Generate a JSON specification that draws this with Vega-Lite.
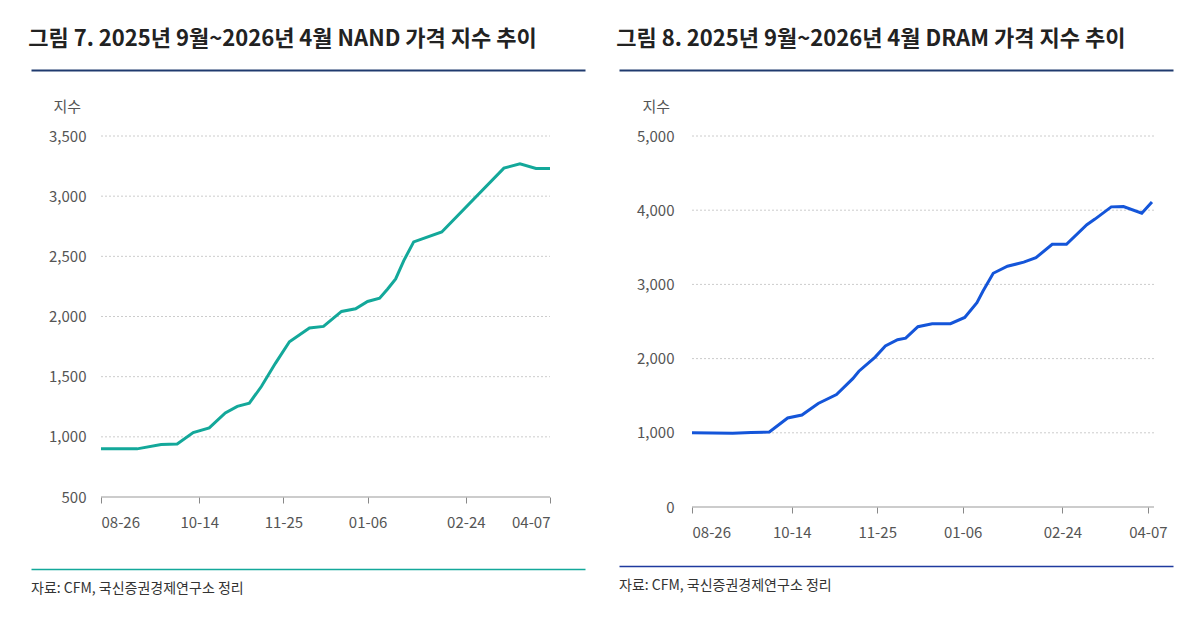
{
  "$schema": "https://vega.github.io/schema/vega-lite/v6.json",
  "background": "white",
  "padding": {"left": 28, "top": 27, "right": 10, "bottom": 10},
  "config": {
    "font": "Noto Sans CJK KR",
    "view": {"stroke": null},
    "title": {"font": "Noto Sans CJK KR", "fontSize": 22, "fontWeight": "bold", "color": "#222222", "anchor": "start", "offset": 16},
    "axis": {"labelFont": "Noto Sans CJK KR", "titleFont": "Noto Sans CJK KR", "labelFontSize": 15, "labelColor": "#555555", "titleColor": "#555555", "titleFontSize": 15, "titleFontWeight": "normal"}
  },
  "datasets": {
    "nand": [
      {"date": "2025-08-26", "value": 900}, {"date": "2025-09-13", "value": 900}, {"date": "2025-09-25", "value": 937},
      {"date": "2025-10-03", "value": 940}, {"date": "2025-10-11", "value": 1035}, {"date": "2025-10-19", "value": 1074},
      {"date": "2025-10-27", "value": 1198}, {"date": "2025-11-02", "value": 1253}, {"date": "2025-11-08", "value": 1280},
      {"date": "2025-11-14", "value": 1418}, {"date": "2025-11-21", "value": 1611}, {"date": "2025-11-28", "value": 1790},
      {"date": "2025-12-08", "value": 1905}, {"date": "2025-12-15", "value": 1918}, {"date": "2025-12-24", "value": 2042},
      {"date": "2025-12-31", "value": 2064}, {"date": "2026-01-06", "value": 2125}, {"date": "2026-01-12", "value": 2152},
      {"date": "2026-01-16", "value": 2229}, {"date": "2026-01-20", "value": 2312}, {"date": "2026-01-24", "value": 2463},
      {"date": "2026-01-29", "value": 2620}, {"date": "2026-02-12", "value": 2702}, {"date": "2026-03-15", "value": 3233},
      {"date": "2026-03-23", "value": 3269}, {"date": "2026-03-31", "value": 3230}, {"date": "2026-04-07", "value": 3230}
    ],
    "dram": [
      {"date": "2025-08-26", "value": 1000}, {"date": "2025-09-15", "value": 995}, {"date": "2025-09-24", "value": 1005},
      {"date": "2025-10-03", "value": 1010}, {"date": "2025-10-12", "value": 1200}, {"date": "2025-10-19", "value": 1240},
      {"date": "2025-10-27", "value": 1395}, {"date": "2025-11-05", "value": 1515}, {"date": "2025-11-13", "value": 1730},
      {"date": "2025-11-16", "value": 1830}, {"date": "2025-11-24", "value": 2020}, {"date": "2025-11-29", "value": 2170},
      {"date": "2025-12-05", "value": 2255}, {"date": "2025-12-09", "value": 2275}, {"date": "2025-12-15", "value": 2430},
      {"date": "2025-12-22", "value": 2470}, {"date": "2025-12-31", "value": 2470}, {"date": "2026-01-07", "value": 2555},
      {"date": "2026-01-13", "value": 2755}, {"date": "2026-01-16", "value": 2910}, {"date": "2026-01-21", "value": 3150},
      {"date": "2026-01-28", "value": 3245}, {"date": "2026-02-05", "value": 3300}, {"date": "2026-02-11", "value": 3360},
      {"date": "2026-02-19", "value": 3540}, {"date": "2026-02-26", "value": 3540}, {"date": "2026-03-08", "value": 3805},
      {"date": "2026-03-12", "value": 3880}, {"date": "2026-03-20", "value": 4045}, {"date": "2026-03-26", "value": 4050},
      {"date": "2026-04-04", "value": 3960}, {"date": "2026-04-09", "value": 4110}
    ],
    "nandgrid": [{"g": 1000}, {"g": 1500}, {"g": 2000}, {"g": 2500}, {"g": 3000}, {"g": 3500}],
    "dramgrid": [{"g": 1000}, {"g": 2000}, {"g": 3000}, {"g": 4000}, {"g": 5000}],
    "one": [{"x": 0}]
  },
  "hconcat": [
    {
      "spacing": 26,
      "vconcat": [
        {
          "title": "그림 7. 2025년 9월~2026년 4월 NAND 가격 지수 추이",
          "width": 554, "height": 1,
          "data": {"name": "one"},
          "mark": {"type": "point", "opacity": 0},
          "encoding": {"x": {"field": "x", "type": "quantitative", "scale": {"domain": [0, 1]},
            "axis": {"domainColor": "#1f3a6e", "domainWidth": 2, "ticks": false, "labels": false, "grid": false, "title": null}}}
        },
        {
          "width": 554, "height": 361,
          "encoding": {
            "x": {"type": "temporal", "scale": {"type": "utc", "range": [70, 519], "domain": [{"year": 2025, "month": 8, "date": 26, "utc": true}, {"year": 2026, "month": 4, "date": 7, "utc": true}]},
              "axis": {"title": null, "format": "%m-%d", "grid": false, "domain": false, "tickColor": "#888888", "tickSize": 6, "labelPadding": 12, "minExtent": 46,
                "values": [{"year": 2025, "month": 8, "date": 26, "utc": true}, {"year": 2025, "month": 10, "date": 14, "utc": true}, {"year": 2025, "month": 11, "date": 25, "utc": true}, {"year": 2026, "month": 1, "date": 6, "utc": true}, {"year": 2026, "month": 2, "date": 24, "utc": true}, {"year": 2026, "month": 4, "date": 7, "utc": true}]}},
            "y": {"type": "quantitative", "scale": {"domain": [500, 3500]},
              "axis": {"title": "지수", "offset": -70, "titleAngle": 0, "titleAnchor": "end", "titleAlign": "left", "titleX": -48, "titleY": -22, "values": [500, 1000, 1500, 2000, 2500, 3000, 3500], "format": ",.0f", "domain": false, "ticks": false, "grid": false, "labelPadding": 15}}
          },
          "layer": [
            {
              "data": {"name": "nandgrid"},
              "mark": {"type": "rule", "color": "#cccccc", "strokeDash": [2, 2], "strokeWidth": 1},
              "encoding": {"y": {"field": "g"}, "x": {"datum": {"year": 2025, "month": 8, "date": 26, "utc": true}}, "x2": {"datum": {"year": 2026, "month": 4, "date": 7, "utc": true}}}
            },
            {
              "data": {"values": [{"g": 500}]},
              "mark": {"type": "rule", "color": "#999999", "strokeWidth": 1},
              "encoding": {"y": {"field": "g"}, "x": {"datum": {"year": 2025, "month": 8, "date": 26, "utc": true}}, "x2": {"datum": {"year": 2026, "month": 4, "date": 7, "utc": true}}}
            },
            {
              "data": {"name": "nand"},
              "mark": {"type": "line", "color": "#13a89a", "strokeWidth": 3},
              "encoding": {"x": {"field": "date"}, "y": {"field": "value"}}
            }
          ]
        },
        {
          "width": 554, "height": 20,
          "data": {"name": "one"},
          "mark": {"type": "text", "text": "자료: CFM, 국신증권경제연구소 정리", "align": "left", "fontSize": 14, "color": "#333333", "dy": 10},
          "encoding": {"x": {"field": "x", "type": "quantitative", "scale": {"domain": [0, 1]},
            "axis": {"orient": "top", "domainColor": "#13a89a", "domainWidth": 1.5, "ticks": false, "labels": false, "grid": false, "title": null}}}
        }
      ]
    },
    {
      "spacing": 26,
      "vconcat": [
        {
          "title": "그림 8. 2025년 9월~2026년 4월 DRAM 가격 지수 추이",
          "width": 554, "height": 1,
          "data": {"name": "one"},
          "mark": {"type": "point", "opacity": 0},
          "encoding": {"x": {"field": "x", "type": "quantitative", "scale": {"domain": [0, 1]},
            "axis": {"domainColor": "#1f3a6e", "domainWidth": 2, "ticks": false, "labels": false, "grid": false, "title": null}}}
        },
        {
          "width": 554, "height": 371,
          "encoding": {
            "x": {"type": "temporal", "scale": {"type": "utc", "range": [73, 535], "domain": [{"year": 2025, "month": 8, "date": 26, "utc": true}, {"year": 2026, "month": 4, "date": 10, "utc": true}]},
              "axis": {"title": null, "format": "%m-%d", "grid": false, "domain": false, "tickColor": "#888888", "tickSize": 6, "labelPadding": 12,
                "values": [{"year": 2025, "month": 8, "date": 26, "utc": true}, {"year": 2025, "month": 10, "date": 14, "utc": true}, {"year": 2025, "month": 11, "date": 25, "utc": true}, {"year": 2026, "month": 1, "date": 6, "utc": true}, {"year": 2026, "month": 2, "date": 24, "utc": true}, {"year": 2026, "month": 4, "date": 7, "utc": true}]}},
            "y": {"type": "quantitative", "scale": {"domain": [0, 5000]},
              "axis": {"title": "지수", "offset": -73, "titleAngle": 0, "titleAnchor": "end", "titleAlign": "left", "titleX": -50, "titleY": -22, "values": [0, 1000, 2000, 3000, 4000, 5000], "format": ",.0f", "domain": false, "ticks": false, "grid": false, "labelPadding": 18}}
          },
          "layer": [
            {
              "data": {"name": "dramgrid"},
              "mark": {"type": "rule", "color": "#cccccc", "strokeDash": [2, 2], "strokeWidth": 1},
              "encoding": {"y": {"field": "g"}, "x": {"datum": {"year": 2025, "month": 8, "date": 26, "utc": true}}, "x2": {"datum": {"year": 2026, "month": 4, "date": 10, "utc": true}}}
            },
            {
              "data": {"values": [{"g": 0}]},
              "mark": {"type": "rule", "color": "#999999", "strokeWidth": 1},
              "encoding": {"y": {"field": "g"}, "x": {"datum": {"year": 2025, "month": 8, "date": 26, "utc": true}}, "x2": {"datum": {"year": 2026, "month": 4, "date": 10, "utc": true}}}
            },
            {
              "data": {"name": "dram"},
              "mark": {"type": "line", "color": "#1455d9", "strokeWidth": 3},
              "encoding": {"x": {"field": "date"}, "y": {"field": "value"}}
            }
          ]
        },
        {
          "width": 554, "height": 20,
          "data": {"name": "one"},
          "mark": {"type": "text", "text": "자료: CFM, 국신증권경제연구소 정리", "align": "left", "fontSize": 14, "color": "#333333", "dy": 10},
          "encoding": {"x": {"field": "x", "type": "quantitative", "scale": {"domain": [0, 1]},
            "axis": {"orient": "top", "domainColor": "#1f3a9e", "domainWidth": 1.5, "ticks": false, "labels": false, "grid": false, "title": null}}}
        }
      ]
    }
  ],
  "spacing": 31
}
